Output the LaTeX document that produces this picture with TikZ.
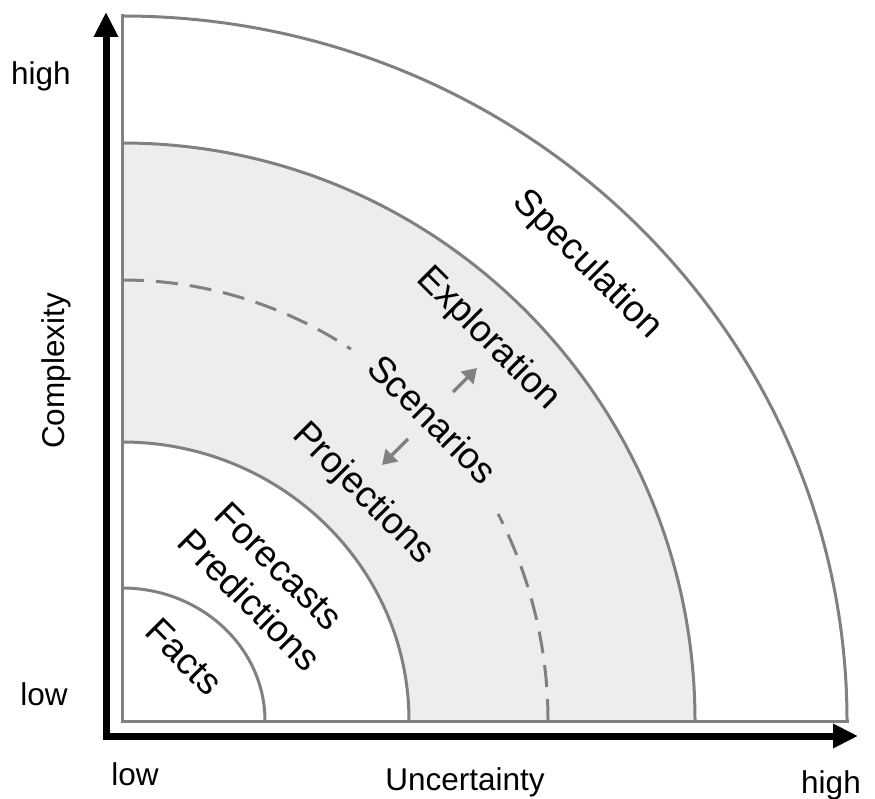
\documentclass[tikz,border=0pt]{standalone}
\usepackage{fontspec}
\setmainfont{Liberation Sans}
\usetikzlibrary{arrows.meta}
\definecolor{arcgray}{RGB}{128,128,128}
\definecolor{bandgray}{RGB}{237,237,237}
\begin{document}
\begin{tikzpicture}[x=1pt,y=1pt,
  arcline/.style={draw=arcgray,line width=3pt},
  axisline/.style={draw=black,line width=7pt,-{Triangle[length=25pt,width=23pt]}},
  smallarrow/.style={draw=arcgray,line width=3.5pt,-{Triangle[length=14pt,width=17pt]}},
  axislabel/.style={inner sep=0pt,anchor=base,font=\fontsize{31.5}{36}\selectfont},
  zonelabel/.style={inner sep=0pt,rotate=-45,font=\fontsize{37}{42}\selectfont}]
\useasboundingbox (0,0) rectangle (875,798);
\coordinate (O) at (122,77);
% band fill
\fill[bandgray] (409,77) arc[start angle=0,end angle=90,x radius=287,y radius=279]
  -- (122,655) arc[start angle=90,end angle=0,x radius=573,y radius=578] -- cycle;
% arcs
\draw[arcline] (265,77) arc[start angle=0,end angle=90,x radius=143,y radius=133];
\draw[arcline] (409,77) arc[start angle=0,end angle=90,x radius=287,y radius=279];
\draw[arcline] (695,77) arc[start angle=0,end angle=90,x radius=573,y radius=578];
\draw[arcline] (847,77) arc[start angle=0,end angle=90,x radius=725,y radius=705];
\draw[arcline,dash pattern=on 22pt off 12pt] (122,518) arc[start angle=90,end angle=57.5,x radius=426,y radius=441];
\draw[arcline,dash pattern=on 22pt off 12pt] (548,77) arc[start angle=0,end angle=28,x radius=426,y radius=441];
% fan border
\coordinate (FT) at (122,782);
\coordinate (FR) at (847,77);
\draw[arcline,line cap=rect] (FT) -- (O) -- (FR);
% axes
\coordinate (A0) at (106,62);
\coordinate (AY) at (106,786);
\coordinate (AX) at (858,62);
\draw[axisline] (A0) -- (AY);
\draw[axisline] (A0) -- (AX);
\fill (102.5,58.5) rectangle (109.5,65.5);
% axis labels
\node[axislabel] (yhigh) at (41,713) {high};
\node[axislabel] (ylow) at (44,93) {low};
\node[axislabel,rotate=90] (ylab) at (64,427) {Complexity};
\node[axislabel] (xlow) at (135,13) {low};
\node[axislabel] (xlab) at (465,8) {Uncertainty};
\node[axislabel] (xhigh) at (831,5) {high};
% zone labels
\node[zonelabel] (facts) at (184,141) {Facts};
\node[zonelabel] (pred) at (250,198) {Predictions};
\node[zonelabel] (fore) at (279,232) {Forecasts};
\node[zonelabel] (proj) at (363,304) {Projections};
\node[zonelabel] (scen) at (433,379) {Scenarios};
\node[zonelabel] (expl) at (488,459) {Exploration};
\node[zonelabel] (spec) at (587,533) {Speculation};
% small arrows
\coordinate (u1) at (453,406);
\coordinate (u2) at (477,430);
\coordinate (d1) at (408,359);
\coordinate (d2) at (382,333);
\draw[smallarrow] (u1) -- (u2);
\draw[smallarrow] (d1) -- (d2);
\end{tikzpicture}
\end{document}
